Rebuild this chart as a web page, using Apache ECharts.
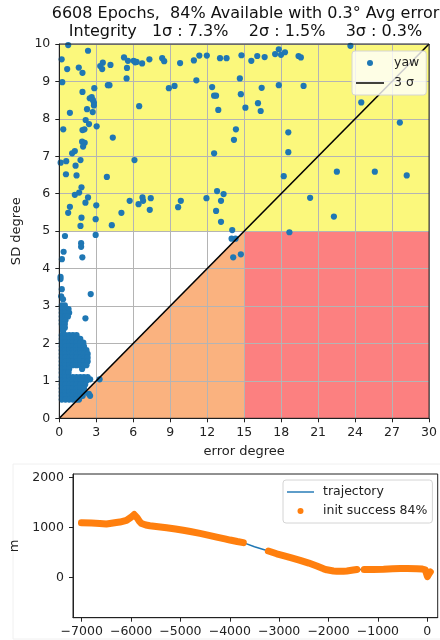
<!DOCTYPE html>
<html><head><meta charset="utf-8">
<script src="https://cdn.jsdelivr.net/npm/echarts@6/dist/echarts.min.js"></script>
<style>html,body{margin:0;padding:0;background:#fff}#c{width:440px;height:640px}</style>
</head><body><div id="c"></div>
<script>
// ---------- texts ----------
const titleLines = ['6608 Epochs,  84% Available with 0.3° Avg error',
                    'Integrity   1σ : 7.3%    2σ : 1.5%    3σ : 0.3%'];
// ---------- top chart axes ----------
const errMin = 0, errMax = 30, errStep = 3;
const sdMin = 0, sdMax = 10, sdStep = 1;
// ---------- zones (data coordinates) ----------
const yellowZone = [[0, 5], [30, 5], [30, 10], [0, 10]];
const redZone = [[15, 0], [30, 0], [30, 5], [15, 5]];
const orangeZone = [[0, 0], [15, 5], [15, 0]];
const sigmaLine = [[0, 0], [30, 10]];
// ---------- yaw scatter: isolated points [error, SD] ----------
const yawSparse = [
 [0.72,9.97],[2.33,9.82],[0.19,9.59],[0.64,9.33],[1.58,9.37],[1.88,9.23],[3.53,9.5],[3.32,9.41],[3.48,9.33],
 [4.15,9.44],[5.25,9.64],[5.57,9.55],[5.49,9.36],[6.03,9.55],[6.16,9.51],[6.27,9.52],[6.72,9.48],[7.31,9.59],
 [8.35,9.62],[8.51,9.54],[9.8,9.49],[10.92,9.56],[11.36,9.69],[11.97,9.69],[13.04,9.62],[13.57,9.62],[14.78,9.7],
 [5.46,9.08],[0.24,8.98],[1.88,8.72],[2.84,8.82],[3.94,8.9],[4.07,8.9],[2.47,8.55],[2.63,8.58],[2.73,8.5],
 [2.81,8.43],[2.81,8.36],[2.25,8.26],[2.71,8.18],[0.86,8.16],[6.48,8.34],[8.89,8.82],[9.35,8.88],[11.12,9.03],
 [12.4,8.85],[12.56,8.62],[12.72,8.62],[12.9,8.24],[14.65,9.08],[14.73,8.66],[15.1,8.3],[2.14,7.97],[2.41,7.86],
 [0.32,7.72],[1.88,7.7],[2.04,7.72],[3.03,7.8],[4.34,7.5],[1.85,7.39],[2.06,7.36],[1.93,7.26],[1.26,7.14],
 [1.04,7.08],[0.56,6.87],[1.72,6.9],[0.11,6.83],[1.32,6.75],[6.1,6.9],[0.54,6.52],[1.4,6.49],[3.86,6.45],
 [12.56,7.08],[14.17,7.44],[14.33,7.72],
 [1.8,6.17],[1.61,6.03],[1.26,5.97],[2.33,5.9],[2.12,5.76],[0.86,5.65],[0.72,5.49],[3.0,5.69],[1.8,5.36],
 [1.72,5.14],[2.95,5.32],[4.26,5.16],[5.04,5.49],[5.71,5.81],[6.43,5.72],[6.75,5.9],[6.8,5.81],[7.42,5.88],
 [7.34,5.57],[9.86,5.81],[9.64,5.64],[11.94,5.88],[12.8,6.07],[13.33,5.99],[13.12,5.81],[12.72,5.54],[13.12,5.25],
 [14.03,5.03],
 [23.62,9.95],[17.81,9.86],[17.99,9.71],[18.31,9.78],[17.51,9.73],[15.58,9.55],[16.06,9.68],[16.66,9.65],
 [19.41,9.68],[19.6,9.64],[17.81,8.9],[19.82,8.88],[16.42,8.83],[16.12,8.42],[16.34,8.21],[24.5,8.44],
 [27.63,7.9],[18.58,7.64],[18.58,7.11],[18.21,6.47],[22.52,6.59],[25.6,6.59],[28.19,6.49],[20.35,5.89],
 [22.28,5.39],[18.67,4.97],
 [0.46,4.87],[2.95,4.9],[0.35,4.45],[0.21,4.25],[1.77,4.68],[1.77,4.58],[1.87,4.3],[13.98,4.8],[14.3,4.8],
 [14.11,4.3],[14.73,4.38],[2.55,3.32],[2.12,2.67],
 [0.1,3.78],[0.1,3.72],[0.2,3.45],[0.15,3.26],[0.3,3.18],[2.5,1.04],[3.27,1.04],[2.4,0.65],[2.5,0.6],[1.85,1.32]
];
// ---------- yaw scatter: dense cluster near the origin [error, SD] ----------
const yawCluster = [
 [0.2,3.02],[0.45,3.02],
 [0.2,2.92],[0.5,2.92],[0.75,2.92],
 [0.2,2.82],[0.5,2.82],[0.8,2.82],
 [0.2,2.72],[0.5,2.72],[0.7,2.72],
 [0.2,2.62],[0.5,2.62],
 [0.2,2.52],[0.45,2.52],
 [0.25,2.42],[0.45,2.42],
 [0.3,2.33],
 [0.2,2.22],[0.5,2.22],[0.8,2.22],[1.1,2.22],[1.4,2.22],
 [0.2,2.12],[0.5,2.12],[0.8,2.12],[1.1,2.12],[1.4,2.12],[1.7,2.12],
 [0.2,2.02],[0.5,2.02],[0.8,2.02],[1.1,2.02],[1.4,2.02],[1.7,2.02],[1.95,2.02],
 [0.2,1.92],[0.5,1.92],[0.8,1.92],[1.1,1.92],[1.4,1.92],[1.7,1.92],[2.0,1.92],
 [0.2,1.82],[0.5,1.82],[0.8,1.82],[1.1,1.82],[1.4,1.82],[1.7,1.82],[2.0,1.82],[2.2,1.82],
 [0.2,1.72],[0.5,1.72],[0.8,1.72],[1.1,1.72],[1.4,1.72],[1.7,1.72],[2.0,1.72],[2.3,1.72],
 [0.2,1.62],[0.5,1.62],[0.8,1.62],[1.1,1.62],[1.4,1.62],[1.7,1.62],[2.0,1.62],[2.3,1.62],
 [0.2,1.52],[0.5,1.52],[0.8,1.52],[1.1,1.52],[1.4,1.52],[1.7,1.52],[2.0,1.52],[2.3,1.52],
 [0.2,1.42],[0.5,1.42],[0.8,1.42],[1.1,1.42],[1.4,1.42],[1.7,1.42],[2.0,1.42],[2.2,1.42],
 [0.2,1.32],[0.5,1.32],[0.8,1.32],
 [0.2,1.22],[0.5,1.22],[0.75,1.22],
 [0.2,1.1],[0.5,1.1],[0.8,1.1],[1.1,1.1],[1.4,1.1],[1.7,1.1],[2.0,1.1],[2.3,1.1],
 [0.2,1.0],[0.5,1.0],[0.8,1.0],[1.1,1.0],[1.4,1.0],[1.7,1.0],[2.0,1.0],[2.2,1.0],
 [0.2,0.9],[0.5,0.9],[0.8,0.9],[1.1,0.9],[1.4,0.9],[1.7,0.9],[2.0,0.9],[2.1,0.9],
 [0.2,0.8],[0.5,0.8],[0.8,0.8],[1.1,0.8],[1.4,0.8],[1.7,0.8],[2.0,0.8],
 [0.2,0.7],[0.5,0.7],[0.8,0.7],[1.1,0.7],[1.4,0.7],[1.7,0.7],[2.0,0.7],
 [0.2,0.6],[0.5,0.6],[0.8,0.6],[1.1,0.6],[1.4,0.6],[1.7,0.6],[1.9,0.6],
 [0.2,0.5],[0.5,0.5],[0.8,0.5],[1.1,0.5],[1.4,0.5],[1.6,0.5]
];
// ---------- bottom chart: trajectory ----------
const trajX = [-7005,-6800,-6633,-6500,-6430,-6300,-6227,-6092,-5990,-5937,-5900,-5876,-5830,-5787,-5700,-5619,
  -5450,-5280,-5100,-4943,-4800,-4604,-4400,-4266,-4100,-3996,-3850,-3726,-3500,-3219,-3050,-2915,-2750,-2576,
  -2400,-2238,-2100,-2035,-1900,-1832,-1700,-1629,-1500,-1426,-1350,-1278,-1100,-886,-700,-548,-400,-209,-100,
  -41,-5,3,15,40,61];
const trajY = [1090,1085,1078,1065,1075,1095,1105,1140,1210,1255,1230,1190,1120,1075,1045,1030,
  1010,990,965,940,915,878,835,805,770,745,715,693,610,525,470,435,390,340,
  285,225,170,150,125,120,122,127,145,155,155,155,155,160,170,178,178,172,165,
  150,110,15,40,80,107];
const initOk = [1,1,1,1,1,1,1,1,1,1,1,1,1,1,1,1,
  1,1,1,1,1,1,1,1,1,1,1,1,0,1,1,1,1,1,
  1,1,1,1,1,1,1,1,1,1,0,1,1,1,1,1,1,1,1,
  1,1,1,1,1,1];
const trajXMin = -7176, trajXMax = 211, trajXTicks = [-7000,-6000,-5000,-4000,-3000,-2000,-1000,0];
const trajYMin = -808, trajYMax = 2066, trajYTicks = [0,1000,2000];

// ---------- styles ----------
const FONT = 'DejaVu Sans';
const zones = [yellowZone, redZone, orangeZone];
const zoneColors = ['#fbf87c', '#fc8080', '#fab27f'];
const lineIcon = 'path://M0,0 L30,0 L30,1.6 L0,1.6 Z';
const minus = v => String(v).replace('-', '\u2212');

const chart = echarts.init(document.getElementById('c'), null, {renderer: 'canvas'});
const axisCommon = {
  axisLine: {show: true, onZero: false, lineStyle: {color: '#222', width: 1}},
  axisTick: {show: true, length: 4, lineStyle: {color: '#222', width: 1}},
  axisLabel: {color: '#222', fontFamily: FONT, fontSize: 12.5},
  nameTextStyle: {color: '#222', fontFamily: FONT, fontSize: 13}
};
chart.setOption({
  animation: false,
  backgroundColor: '#fff',
  graphic: [
    {type: 'text', x: 245.5, y: 14, z: 10, style: {text: titleLines[0], align: 'center', verticalAlign: 'middle', font: '16px "DejaVu Sans"', fill: '#111'}},
    {type: 'text', x: 245.5, y: 31.5, z: 10, style: {text: titleLines[1], align: 'center', verticalAlign: 'middle', font: '16px "DejaVu Sans"', fill: '#111'}},
    {type: 'rect', shape: {x: 13, y: 464, width: 440, height: 175}, z: -1, style: {fill: 'none', stroke: '#f0f0f0', lineWidth: 1}}
  ],
  grid: [
    {left: 59.3, top: 44, width: 373.5, height: 374.3, show: true, borderColor: '#222', borderWidth: 1, backgroundColor: 'transparent', z: 5},
    {left: 73, top: 474, width: 364.7, height: 143.7, show: true, borderColor: '#222', borderWidth: 1, backgroundColor: 'transparent', z: 5}
  ],
  legend: [
    {data: [{name: 'yaw', icon: 'circle'}, {name: '3 σ', icon: lineIcon}],
     orient: 'vertical', left: 352, top: 51, align: 'left', itemWidth: 28, itemHeight: 6, itemGap: 6,
     padding: [5, 7, 5, 4], backgroundColor: 'rgba(255,255,255,0.8)', borderColor: '#d4d4d4', borderWidth: 1, borderRadius: 3,
     textStyle: {fontFamily: FONT, fontSize: 12.5, color: '#222', lineHeight: 14, padding: [0, 0, 0, 5]}, z: 20, selectedMode: false},
    {data: [{name: 'trajectory', icon: lineIcon}, {name: 'init success 84%', icon: 'circle'}],
     orient: 'vertical', left: 283, top: 480, align: 'left', itemWidth: 27, itemHeight: 6, itemGap: 5,
     padding: [5, 5, 5, 4], backgroundColor: 'rgba(255,255,255,0.8)', borderColor: '#d4d4d4', borderWidth: 1, borderRadius: 3,
     textStyle: {fontFamily: FONT, fontSize: 12.5, color: '#222', lineHeight: 14, padding: [0, 0, 0, 4]}, z: 20, selectedMode: false}
  ],
  xAxis: [
    Object.assign({}, axisCommon, {gridIndex: 0, type: 'value', min: errMin, max: errMax, interval: errStep, z: 1,
      name: 'error degree', nameLocation: 'middle', nameGap: 27,
      axisLabel: Object.assign({}, axisCommon.axisLabel, {margin: 8}),
      splitLine: {show: true, lineStyle: {color: '#b4b4b4', width: 1}}}),
    Object.assign({}, axisCommon, {gridIndex: 1, type: 'value', min: trajXMin, max: trajXMax, z: 1,
      axisLabel: Object.assign({}, axisCommon.axisLabel, {margin: 8, customValues: trajXTicks, formatter: minus}),
      axisTick: Object.assign({}, axisCommon.axisTick, {customValues: trajXTicks}),
      splitLine: {show: false}})
  ],
  yAxis: [
    Object.assign({}, axisCommon, {gridIndex: 0, type: 'value', min: sdMin, max: sdMax, interval: sdStep, z: 1,
      name: 'SD degree', nameLocation: 'middle', nameGap: 29,
      axisLabel: Object.assign({}, axisCommon.axisLabel, {margin: 9}),
      splitLine: {show: true, lineStyle: {color: '#b4b4b4', width: 1}}}),
    Object.assign({}, axisCommon, {gridIndex: 1, type: 'value', min: trajYMin, max: trajYMax, z: 1,
      name: 'm', nameLocation: 'middle', nameGap: 42,
      axisLabel: Object.assign({}, axisCommon.axisLabel, {margin: 9, customValues: trajYTicks, formatter: minus}),
      axisTick: Object.assign({}, axisCommon.axisTick, {customValues: trajYTicks}),
      splitLine: {show: false}})
  ],
  series: [
    {type: 'custom', xAxisIndex: 0, yAxisIndex: 0, z: 0, silent: true,
     data: zones.map((z, i) => [z[0][0], z[0][1], i]),
     renderItem: (params, api) => {
       const idx = params.dataIndex;
       return {type: 'polygon', shape: {points: zones[idx].map(p => api.coord(p))}, style: {fill: zoneColors[idx]}};
     }},
    {name: 'yaw', type: 'scatter', xAxisIndex: 0, yAxisIndex: 0, z: 3,
     data: yawSparse.concat(yawCluster), symbolSize: 6.2, itemStyle: {color: '#1f77b4', opacity: 1}},
    {name: '3 σ', type: 'line', xAxisIndex: 0, yAxisIndex: 0, z: 4, data: sigmaLine, symbol: 'none',
     color: '#000', lineStyle: {color: '#000', width: 1.6}},
    {name: 'trajectory', type: 'line', xAxisIndex: 1, yAxisIndex: 1, z: 2, symbol: 'none', color: '#1f77b4',
     data: trajX.map((x, i) => [x, trajY[i]]), lineStyle: {color: '#1f77b4', width: 1.5}},
    {name: 'init success 84%', type: 'line', xAxisIndex: 1, yAxisIndex: 1, z: 3, symbol: 'none', color: '#ff7f0e',
     connectNulls: false,
     data: trajX.map((x, i) => initOk[i] ? [x, trajY[i]] : [x, null]),
     lineStyle: {color: '#ff7f0e', width: 7, cap: 'round', join: 'round'}}
  ]
});
</script></body></html>
